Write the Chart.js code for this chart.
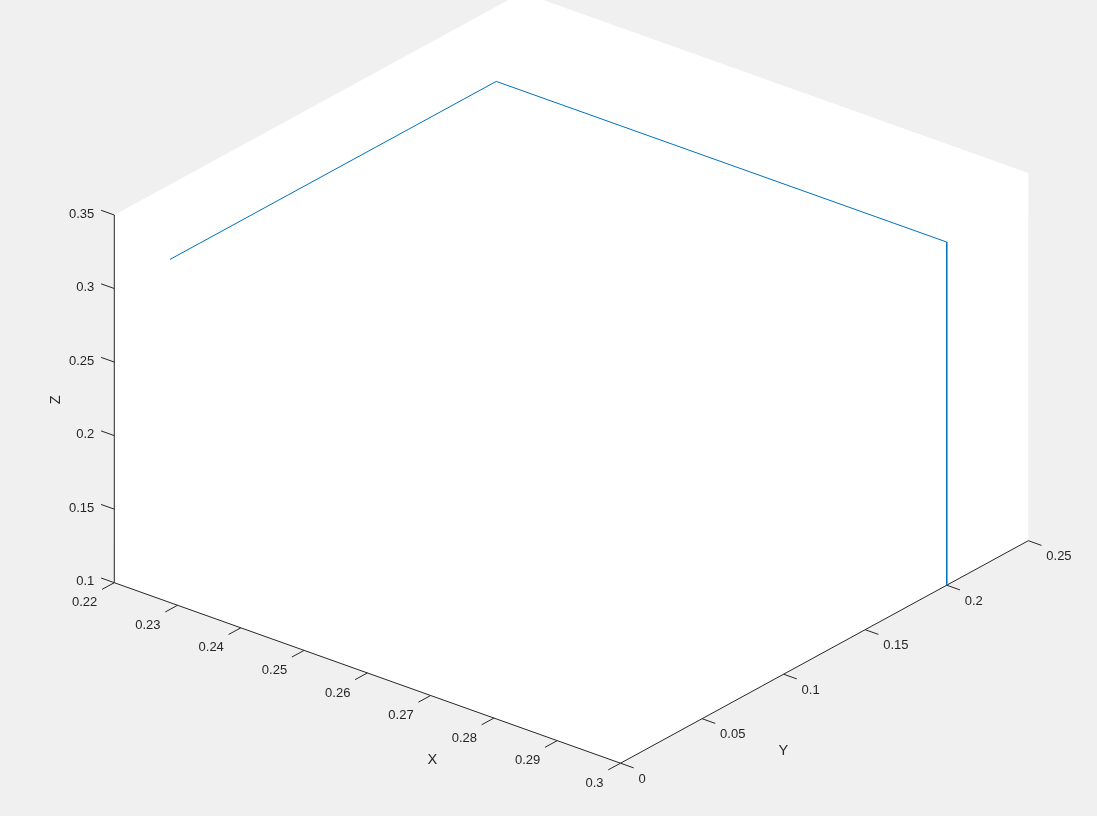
<!DOCTYPE html>
<html>
<head>
<meta charset="utf-8">
<script src="https://cdn.jsdelivr.net/npm/chart.js@4/dist/chart.umd.min.js"></script>
<style>
  html, body { margin: 0; padding: 0; background: #f0f0f0; }
  #wrap { width: 1097px; height: 816px; }
</style>
</head>
<body>
<div id="wrap"><canvas id="plot3" width="1097" height="816"></canvas></div>
<script>
// trajectory (x, y, z)
const xData = [0.2288, 0.2288, 0.3, 0.3];
const yData = [0, 0.2, 0.2, 0.2];
const zData = [0.3333, 0.3333, 0.3333, 0.1];

// axis limits and ticks
const xLims = [0.22, 0.3];
const yLims = [0, 0.25];
const zLims = [0.1, 0.35];
const xTicks = [0.22, 0.23, 0.24, 0.25, 0.26, 0.27, 0.28, 0.29, 0.3];
const yTicks = [0, 0.05, 0.1, 0.15, 0.2, 0.25];
const zTicks = [0.1, 0.15, 0.2, 0.25, 0.3, 0.35];

// view: where the plot box lands in the 2d plane (az -37.5 / el 30 like)
var view = {
	o: [114.3, 582.7],
	ex: [506.2, 180.5],
	ey: [407.8, -222.5],
	ez: [0, -367.7]
};

proj = function (x, y, z) {
	let a = (x - xLims[0]) / (xLims[1] - xLims[0]);
	let b = (y - yLims[0]) / (yLims[1] - yLims[0]);
	let c = (z - zLims[0]) / (zLims[1] - zLims[0]);
	return {
		x: view.o[0] + a * view.ex[0] + b * view.ey[0] + c * view.ez[0],
		y: view.o[1] + a * view.ex[1] + b * view.ey[1] + c * view.ez[1]
	};
};

var pts = [];
for (let i = 0; i < xData.length; i++) {
	pts.push(proj(xData[i], yData[i], zData[i]));
}

fmt = function (v) { return String(Number(v.toFixed(3))); };

var unit = function (v, len) {
	let l = Math.hypot(v[0], v[1]);
	return [v[0] / l * len, v[1] / l * len];
};

var box3d = {
	id: "box3d",
	beforeDatasetsDraw(chart) {
		const c = chart.ctx;
		const sx = chart.scales.x, sy = chart.scales.y;
		const px = function (p) { return [sx.getPixelForValue(p.x), sy.getPixelForValue(p.y)]; };
		const P = function (x, y, z) { return px(proj(x, y, z)); };

		const A = P(xLims[0], yLims[0], zLims[0]);
		const B = P(xLims[1], yLims[0], zLims[0]);
		const C = P(xLims[1], yLims[1], zLims[0]);
		const D = P(xLims[1], yLims[1], zLims[1]);
		const E = P(xLims[0], yLims[1], zLims[1]);
		const F = P(xLims[0], yLims[0], zLims[1]);

		c.save();
		c.fillStyle = "#ffffff";
		c.beginPath();
		[A, B, C, D, E, F].forEach(function (p, i) { i ? c.lineTo(p[0], p[1]) : c.moveTo(p[0], p[1]); });
		c.closePath();
		c.fill();

		c.strokeStyle = "#262626";
		c.lineWidth = 1;
		c.beginPath();
		c.moveTo(F[0], F[1]); c.lineTo(A[0], A[1]); c.lineTo(B[0], B[1]); c.lineTo(C[0], C[1]);
		c.stroke();

		const tx = unit(view.ey, -14); // x ticks
		const ty = unit(view.ex, 14);  // y ticks
		const tz = unit(view.ex, -14); // z ticks

		c.fillStyle = "#262626";
		c.font = "13px 'Liberation Sans', Arial, sans-serif";
		c.textBaseline = "middle";
		c.beginPath();
		xTicks.forEach(function (v) {
			let p = P(v, yLims[0], zLims[0]);
			c.moveTo(p[0], p[1]); c.lineTo(p[0] + tx[0], p[1] + tx[1]);
		});
		yTicks.forEach(function (v) {
			let p = P(xLims[1], v, zLims[0]);
			c.moveTo(p[0], p[1]); c.lineTo(p[0] + ty[0], p[1] + ty[1]);
		});
		zTicks.forEach(function (v) {
			let p = P(xLims[0], yLims[0], v);
			c.moveTo(p[0], p[1]); c.lineTo(p[0] + tz[0], p[1] + tz[1]);
		});
		c.stroke();

		c.textAlign = "right";
		xTicks.forEach(function (v) {
			let p = P(v, yLims[0], zLims[0]);
			c.fillText(fmt(v), p[0] - 17, p[1] + 20);
		});
		c.textAlign = "left";
		yTicks.forEach(function (v) {
			let p = P(xLims[1], v, zLims[0]);
			c.fillText(fmt(v), p[0] + 18, p[1] + 16);
		});
		c.textAlign = "right";
		zTicks.forEach(function (v) {
			let p = P(xLims[0], yLims[0], v);
			c.fillText(fmt(v), p[0] - 20, p[1] - 1);
		});

		// axis titles
		c.font = "14.6px 'Liberation Sans', Arial, sans-serif";
		c.textAlign = "center";
		let xm = P((xLims[0] + xLims[1]) / 2, yLims[0], zLims[0]);
		c.fillText("X", xm[0] + 65, xm[1] + 87);
		let ym = P(xLims[1], (yLims[0] + yLims[1]) / 2, zLims[0]);
		c.fillText("Y", ym[0] - 41, ym[1] + 99);
		let zm = P(xLims[0], yLims[0], (zLims[0] + zLims[1]) / 2);
		c.translate(zm[0] - 58, zm[1] + 1);
		c.rotate(-Math.PI / 2);
		c.fillText("Z", 0, 0);
		c.restore();
	}
};

var chart = new Chart(document.getElementById("plot3").getContext("2d"), {
	type: "scatter",
	data: {
		datasets: [
			{
				data: pts,
				showLine: true,
				borderColor: "#0072BD",
				borderWidth: 1,
				pointRadius: 0,
				fill: false,
				tension: 0
			}
		]
	},
	options: {
		responsive: false,
		animation: false,
		layout: { padding: 0 },
		plugins: { legend: { display: false }, tooltip: { enabled: false } },
		scales: {
			x: { type: "linear", display: false, min: 0, max: 1097 },
			y: { type: "linear", display: false, min: 0, max: 816, reverse: true }
		}
	},
	plugins: [box3d]
});
</script>
</body>
</html>
